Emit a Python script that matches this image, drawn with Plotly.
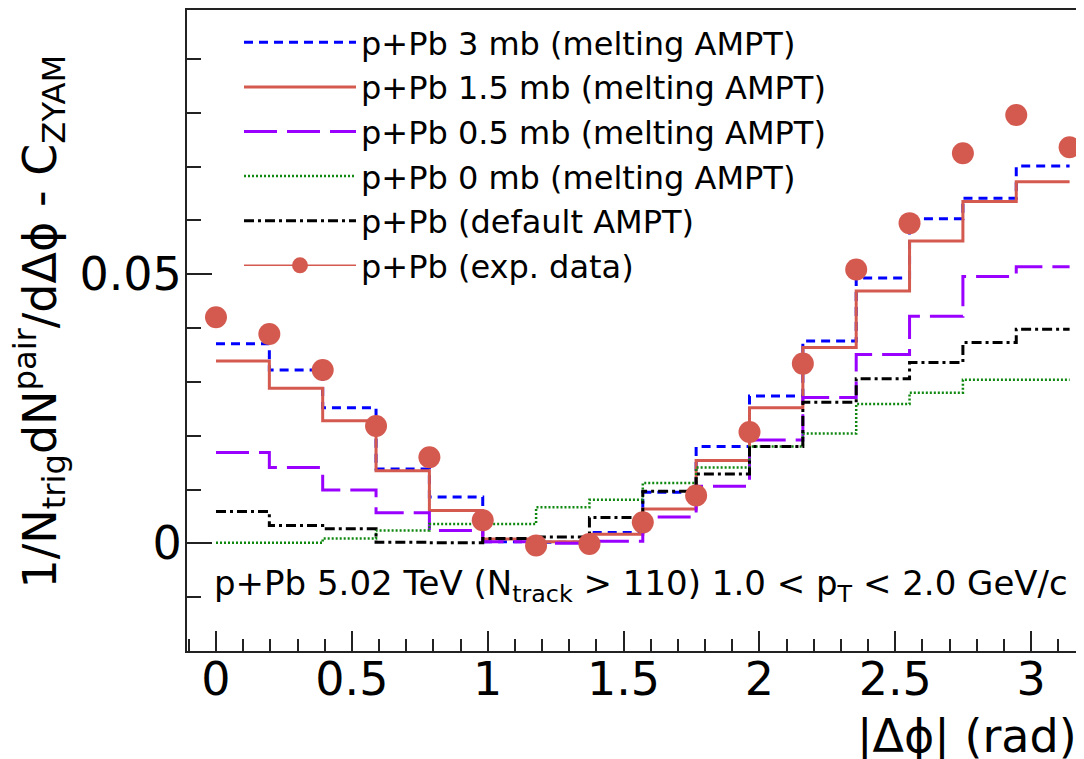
import numpy as np
import plotly.graph_objects as go

# |dphi| bins (16 bins of pi/16) and data-point positions
bin_edges = [k * np.pi / 16 for k in range(17)]
data_x = [k * np.pi / 16 for k in range(17)]

# per-bin values of the AMPT histograms
ampt_3mb = [0.0371, 0.0322, 0.0252, 0.0138, 0.0086, 0.0003, 0.0002, 0.0020,
            0.0095, 0.0180, 0.0274, 0.0376, 0.0493, 0.0603, 0.0641, 0.0701]
ampt_15mb = [0.0339, 0.0288, 0.0228, 0.0135, 0.0061, 0.0008, 0.0003, 0.0017,
             0.0064, 0.0154, 0.0252, 0.0364, 0.0469, 0.0562, 0.0635, 0.0672]
ampt_05mb = [0.0169, 0.0141, 0.0099, 0.0057, 0.0024, 0.0003, 0.0000, 0.0004,
             0.0049, 0.0106, 0.0192, 0.0271, 0.0351, 0.0422, 0.0496, 0.0514]
ampt_0mb = [0.0001, 0.0001, 0.0009, 0.0024, 0.0036, 0.0036, 0.0067, 0.0081,
            0.0112, 0.0141, 0.0180, 0.0204, 0.0259, 0.0280, 0.0304, 0.0304]
ampt_default = [0.0059, 0.0033, 0.0027, 0.0002, 0.0001, 0.0009, 0.0012, 0.0048,
                0.0097, 0.0129, 0.0180, 0.0262, 0.0306, 0.0336, 0.0373, 0.0398]
exp_data = [0.0420, 0.0389, 0.0322, 0.0218, 0.0160, 0.0043, -0.0004, -0.0001,
            0.0039, 0.0089, 0.0207, 0.0334, 0.0509, 0.0595, 0.0725, 0.0796, 0.0736]

names = ["p+Pb 3 mb (melting AMPT)", "p+Pb 1.5 mb (melting AMPT)",
         "p+Pb 0.5 mb (melting AMPT)", "p+Pb 0 mb (melting AMPT)",
         "p+Pb (default AMPT)", "p+Pb (exp. data)"]

RED = "#d45a50"
styles = [
    dict(color="#0000ff", width=3, dash="9px,6px"),
    dict(color=RED, width=3, dash="solid"),
    dict(color="#9a00ff", width=3, dash="33px,10px"),
    dict(color="#0f880f", width=2.5, dash="2px,2px"),
    dict(color="#000000", width=3, dash="10px,4px,3px,4px"),
]
series = [ampt_3mb, ampt_15mb, ampt_05mb, ampt_0mb, ampt_default]

FONT = "DejaVu Sans"
fig = go.Figure()
for name, vals, st in zip(names[:5], series, styles):
    fig.add_trace(go.Scatter(
        x=bin_edges, y=vals + [vals[-1]], mode="lines", name=name,
        line=dict(shape="hv", **st)))

# legend entry for data (marker with line), then the data points themselves
fig.add_trace(go.Scatter(x=[None], y=[None], mode="lines+markers", name=names[5],
                         line=dict(color=RED, width=1.5),
                         marker=dict(color=RED, size=22)))
fig.add_trace(go.Scatter(x=data_x, y=exp_data, mode="markers", showlegend=False,
                         marker=dict(color=RED, size=22), name=names[5]))

# the page body adds an 8px offset; figure sized so it ends at the window edge
OFF = 8
W, H = 1084 - OFF, 759 - OFF
L, R, T, B = 187 - OFF, 0, 8 - OFF, 759 - 651
pw, ph = W - L - R, H - T - B

def px_x(xp):   # page pixel -> paper x
    return (xp - OFF - L) / pw

def px_y(yp):   # page pixel -> paper y
    return (H - B - (yp - OFF)) / ph

axis_common = dict(showline=True, linecolor="#222", linewidth=2, ticks="inside",
                   tickcolor="#222", tickwidth=1.5, showgrid=False, zeroline=False,
                   tickfont=dict(family=FONT, size=46, color="black"))

fig.update_layout(
    width=W, height=H, autosize=False,
    margin=dict(l=L, r=R, t=T, b=B, pad=0),
    paper_bgcolor="white", plot_bgcolor="white",
    xaxis=dict(range=[-0.1067, 3.1946], mirror=True, dtick=0.5, tick0=0, ticklen=20,
               ticklabelstandoff=-13,
               minor=dict(dtick=0.1, tick0=0, ticks="inside", ticklen=12,
                          tickwidth=1.5, tickcolor="#222"),
               **axis_common),
    yaxis=dict(range=[-0.02, 0.0991], dtick=0.05, tick0=0, ticklen=25,
               ticklabelstandoff=-6,
               minor=dict(dtick=0.01, tick0=0, ticks="inside", ticklen=14,
                          tickwidth=1.5, tickcolor="#222"),
               **axis_common),
    legend=dict(x=px_x(239), y=px_y(13), xanchor="left", yanchor="top",
                font=dict(family=FONT, size=32, color="black"),
                itemwidth=112, bgcolor="rgba(0,0,0,0)", borderwidth=0,
                tracegroupgap=0),
    showlegend=True,
)

fig.add_annotation(
    text="1/N<sub>trig</sub>dN<sup>pair</sup>/dΔϕ - C<sub>ZYAM</sub>",
    textangle=-90, xref="paper", yref="paper", x=px_x(4), y=px_y(321),
    xanchor="left", yanchor="middle", showarrow=False,
    font=dict(family=FONT, size=46, color="black"))

fig.add_annotation(
    text="|Δϕ| (rad)", xref="paper", yref="paper", x=px_x(1079), y=px_y(707),
    xanchor="right", yanchor="top", showarrow=False,
    font=dict(family=FONT, size=46, color="black"))

fig.add_annotation(
    text="p+Pb 5.02 TeV (N<sub>track</sub> &gt; 110) 1.0 &lt; p<sub>T</sub> &lt; 2.0 GeV/c",
    xref="paper", yref="paper", x=px_x(212), y=px_y(561),
    xanchor="left", yanchor="top", showarrow=False,
    font=dict(family=FONT, size=34, color="black"))

fig.write_html("out.html")
